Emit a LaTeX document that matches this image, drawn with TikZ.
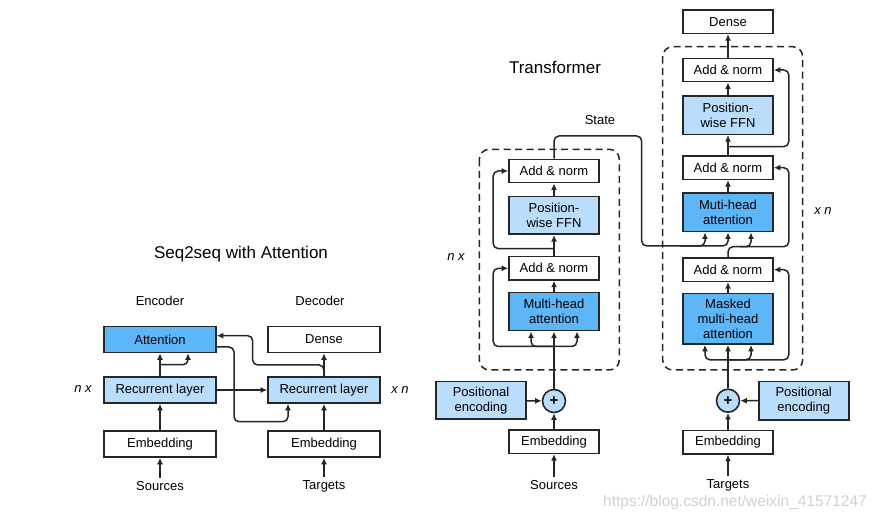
\documentclass[tikz,border=0pt]{standalone}
\usepackage{fontspec}
\setmainfont{Liberation Sans}
\usetikzlibrary{arrows.meta,calc}
\definecolor{attblue}{RGB}{92,182,248}
\definecolor{layblue}{RGB}{186,221,251}
\tikzset{
  lbl/.style={font=\fontsize{13}{15}\selectfont},
  ttl/.style={font=\fontsize{17}{20}\selectfont},
  blk/.style={lbl,draw=black!85,line width=1.6pt,fill=white,inner sep=0pt,
    minimum width=112pt,minimum height=26pt,align=center},
  tblk/.style={blk,minimum width=90pt,minimum height=23.3pt},
  addc/.style={circle,draw=black!85,line width=1.6pt,fill=layblue,
    inner sep=0pt,minimum size=23pt,font=\fontsize{15}{15}\selectfont\bfseries},
  arr/.style={-{Latex[length=6.5pt,width=6pt]},line width=1.5pt,draw=black!85},
  rc/.style={rounded corners=5pt},
  blkframe/.style={dash pattern=on 7pt off 4.5pt,line width=1.5pt,
    draw=black!85,rounded corners=10pt}
}
\begin{document}
\begin{tikzpicture}[x=1pt,y=1pt,yscale=-1,xscale=1]
\useasboundingbox (0,0) rectangle (879,521);

% Seq2seq with attention
\node[ttl] (s2sTitle) at (241,254) {Seq2seq with Attention};
\node[lbl] (encLbl) at (160,301) {Encoder};
\node[lbl] (decLbl) at (320,301) {Decoder};
\node[blk,fill=attblue] (att) at (160,339.5) {Attention};
\node[blk] (dense) at (324,339.5) {Dense};
\node[blk,fill=layblue] (recE) at (160,390) {Recurrent layer};
\node[blk,fill=layblue] (recD) at (324,390) {Recurrent layer};
\node[blk] (embE) at (160,444) {Embedding};
\node[blk] (embD) at (324,444) {Embedding};
\node[lbl] (srcE) at (160,486) {Sources};
\node[lbl] (tgtD) at (324,486) {Targets};
\node[lbl] (nxE) at (83,389) {\itshape n x};
\node[lbl] (xnD) at (400,390) {\itshape x n};

\coordinate (att2dec) at (234,421.7);
\coordinate (dec2att) at (252.7,365);

\draw[arr] (srcE) -- (embE);
\draw[arr] (embE) -- (recE);
\draw[arr] (recE) -- (att);
\draw[arr,rc] ($(recE.north)!.5!(att.south)$) -| ($(att.south)+(28,0)$);
\draw[arr] (recE) -- (recD);
\draw[arr,rc] ($(att.east)+(0,7.5)$) -| (att2dec) -| ($(recD.south)+(-36,0)$);
\draw[arr] (tgtD) -- (embD);
\draw[arr] (embD) -- (recD);
\draw[arr] (recD) -- (dense);
\draw[arr,rc] (recD.north) |- (dec2att) |- ($(att.east)+(0,-3.8)$);

% Transformer
\node[ttl] (tfTitle) at (555,67) {Transformer};
\node[lbl] (stateLbl) at (600,120) {State};
\node[lbl] (nxT) at (456,257) {\itshape n x};
\node[lbl] (xnT) at (823,211) {\itshape x n};

% encoder
\draw[blkframe] (479.3,149.3) rectangle (619.3,370);
\node[tblk] (anE2) at (554,171) {Add \& norm};
\node[tblk,fill=layblue,minimum height=37.6pt] (ffnE) at (554,215.5) {Position-\\wise FFN};
\node[tblk] (anE1) at (554,268.3) {Add \& norm};
\node[tblk,fill=attblue,minimum height=38pt] (mhaE) at (554,311.7) {Multi-head\\attention};
\node[addc] (plusE) at (554,401) {+};
\node[tblk,fill=layblue,minimum height=37.6pt] (posE) at (481,400.5) {Positional\\encoding};
\node[tblk] (embTE) at (554,441.7) {Embedding};
\node[lbl] (srcT) at (554,485.5) {Sources};

% decoder
\draw[blkframe] (662.7,46.7) rectangle (802.7,370);
\node[tblk] (denseT) at (728,21.7) {Dense};
\node[tblk] (anD3) at (728,70) {Add \& norm};
\node[tblk,fill=layblue,minimum height=38.3pt] (ffnD) at (728,115.2) {Position-\\wise FFN};
\node[tblk] (anD2) at (728,167.7) {Add \& norm};
\node[tblk,fill=attblue,minimum height=38.4pt] (mhaD) at (728,212.5) {Muti-head\\attention};
\node[tblk] (anD1) at (728,269.7) {Add \& norm};
\node[tblk,fill=attblue,minimum height=50.7pt] (mmhaD) at (728,318.7) {Masked\\multi-head\\attention};
\node[addc] (plusD) at (728,400.7) {+};
\node[tblk,fill=layblue,minimum height=38.3pt] (posD) at (803.7,400.8) {Positional\\encoding};
\node[tblk] (embTD) at (728,442.3) {Embedding};
\node[lbl] (tgtT) at (728,485.7) {Targets};

\coordinate (encsplit) at ($(mhaE.south)+(0,15)$);
\coordinate (ffnsplitE) at ($(anE1.north)!.35!(ffnE.south)$);
\coordinate (stateR) at (641.7,136);
\coordinate (kvsplit) at (680,246);
\coordinate (qsplit) at ($(anD1.north)+(12,-10.5)$);
\coordinate (decsplit) at ($(mmhaD.south)+(0,15)$);
\coordinate (ffnsplitD) at ($(anD2.north)!.43!(ffnD.south)$);

\draw[arr] (srcT) -- (embTE);
\draw[arr] (embTE) -- (plusE);
\draw[arr] (posE) -- (plusE);
\draw[arr] (plusE) -- (mhaE);
\draw[arr,rc] (encsplit) -| ($(mhaE.south)+(-23,0)$);
\draw[arr,rc] (encsplit) -| ($(mhaE.south)+(23,0)$);
\draw[arr,rc] (encsplit) -| ($(anE1.west)+(-15,0)$) -- (anE1.west);
\draw[arr] (mhaE) -- (anE1);
\draw[arr] (anE1) -- (ffnE);
\draw[arr,rc] (ffnsplitE) -| ($(anE2.west)+(-15,0)$) -- (anE2.west);
\draw[arr] (ffnE) -- (anE2);
\draw[arr,rc] (anE2.north) |- (stateR) |- (kvsplit) -| ($(mhaD.south)+(-23,0)$);
\draw[arr,rc] (kvsplit) -| (mhaD.south);

\draw[arr] (tgtT) -- (embTD);
\draw[arr] (embTD) -- (plusD);
\draw[arr] (posD) -- (plusD);
\draw[arr] (plusD) -- (mmhaD);
\draw[arr,rc] (decsplit) -| ($(mmhaD.south)+(-23,0)$);
\draw[arr,rc] (decsplit) -| ($(mmhaD.south)+(23,0)$);
\draw[arr,rc] (decsplit) -| ($(anD1.east)+(15,0)$) -- (anD1.east);
\draw[arr] (mmhaD) -- (anD1);
\draw[arr,rc] (anD1.north) |- (qsplit) -| ($(mhaD.south)+(23,0)$);
\draw[arr,rc] (qsplit) -| ($(anD2.east)+(15,0)$) -- (anD2.east);
\draw[arr] (mhaD) -- (anD2);
\draw[arr] (anD2) -- (ffnD);
\draw[arr,rc] (ffnsplitD) -| ($(anD3.east)+(15,0)$) -- (anD3.east);
\draw[arr] (ffnD) -- (anD3);
\draw[arr] (anD3) -- (denseT);

% watermark
\node[font=\fontsize{15.5}{17}\selectfont,text=black!18] (wmark) at (735,502) {https://blog.csdn.net/weixin\_41571247};
\end{tikzpicture}
\end{document}
